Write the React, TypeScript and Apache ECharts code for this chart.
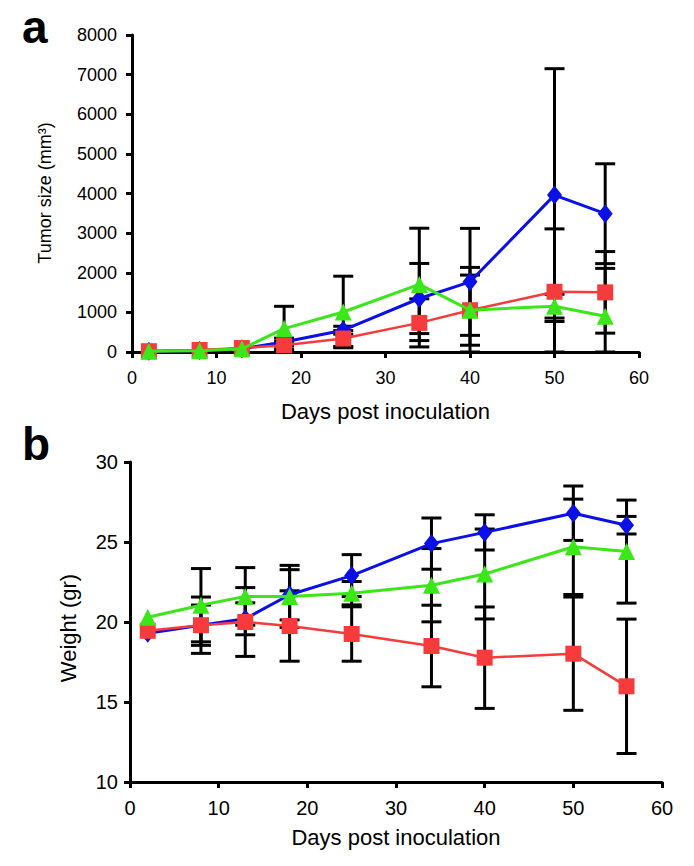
import React, { useEffect, useRef } from "react";
import * as echarts from "echarts";

const days = [2, 8, 13, 18, 25, 34, 40, 50, 56];

// Panel a: tumor size (mm3)
const tumorBlue = [20, 40, 80, 250, 550, 1350, 1770, 3960, 3490];
const tumorBlueErr = [0, 0, 0, 100, 100, 885, 1350, 3190, 1260];
const tumorRed = [20, 50, 100, 170, 340, 735, 1055, 1520, 1505];
const tumorRedErr = [0, 0, 0, 100, 200, 607, 1080, 1587, 1029];
const tumorGreen = [20, 30, 80, 590, 1010, 1706, 1056, 1157, 904];
const tumorGreenErr = [0, 0, 0, 563, 903, 1418, 885, 300, 1206];

// Panel b: weight (gr)
const weightBlue = [19.3, 19.8, 20.2, 21.7, 22.9, 24.9, 25.6, 26.8, 26.05];
const weightBlueErr = [0, 1.76, 1.0, 1.57, 1.31, 1.6, 1.1, 1.7, 0.55];
const weightRed = [19.45, 19.8, 20.0, 19.75, 19.25, 18.5, 17.77, 18.02, 15.98];
const weightRedErr = [0, 1.26, 2.15, 2.2, 1.7, 2.55, 3.17, 3.54, 4.2];
const weightGreen = [20.3, 21.05, 21.6, 21.6, 21.8, 22.3, 23.0, 24.7, 24.4];
const weightGreenErr = [0, 2.29, 1.8, 1.94, 0.73, 2.29, 2.81, 2.98, 3.22];

const FONT = '"Liberation Sans", Arial, sans-serif';
const BLUE = "#0a10e6";
const RED = "#f53b3b";
const GREEN = "#3be619";

function errSeries(vals: number[], errs: number[], axis: number, yMin: number, yMax: number) {
  return {
    type: "custom",
    xAxisIndex: axis,
    yAxisIndex: axis,
    z: 1,
    silent: true,
    encode: { x: 0, y: 1 },
    data: days.map((d, i) => [d, vals[i], errs[i]]),
    renderItem: (params: any, api: any) => {
      const x = api.value(0);
      const m = api.value(1);
      const e = api.value(2);
      if (!e) return { type: "group", children: [] };
      const lo = Math.max(m - e, yMin);
      const hi = Math.min(m + e, yMax);
      const pLo = api.coord([x, lo]);
      const pHi = api.coord([x, hi]);
      const w = 10;
      const st = { stroke: "#000", lineWidth: 3 };
      return {
        type: "group",
        children: [
          { type: "line", shape: { x1: pLo[0], y1: pLo[1], x2: pHi[0], y2: pHi[1] }, style: st },
          { type: "line", shape: { x1: pHi[0] - w, y1: pHi[1], x2: pHi[0] + w, y2: pHi[1] }, style: st },
          { type: "line", shape: { x1: pLo[0] - w, y1: pLo[1], x2: pLo[0] + w, y2: pLo[1] }, style: st },
        ],
      };
    },
  };
}

function lineSeries(vals: number[], axis: number, color: string, symbol: string, size: any, width: number, z: number) {
  return {
    type: "line",
    xAxisIndex: axis,
    yAxisIndex: axis,
    z,
    data: days.map((d, i) => [d, vals[i]]),
    symbol,
    symbolSize: size,
    showSymbol: true,
    lineStyle: { color, width },
    itemStyle: { color },
  };
}

const axisLine = { show: true, lineStyle: { color: "#000", width: 3 } };
const axisTick = { show: true, length: 6, lineStyle: { color: "#000", width: 3 } };
const plain = (v: number) => String(v);

export default function App() {
  const ref = useRef<HTMLDivElement>(null);
  useEffect(() => {
    if (!ref.current) return;
    const chart = echarts.init(ref.current, null, { renderer: "svg" });
    chart.setOption({
      animation: false,
      backgroundColor: "#fff",
      grid: [
        { left: 132, top: 35, width: 507, height: 317 },
        { left: 130, top: 462, width: 532, height: 320 },
      ],
      xAxis: [
        {
          gridIndex: 0,
          type: "value",
          min: 0,
          max: 60,
          interval: 10,
          axisLine,
          axisTick,
          splitLine: { show: false },
          axisLabel: { color: "#000", fontFamily: FONT, fontSize: 18, margin: 17, formatter: plain },
          name: "Days post inoculation",
          nameLocation: "middle",
          nameGap: 48,
          nameTextStyle: { color: "#000", fontFamily: FONT, fontSize: 22 },
        },
        {
          gridIndex: 1,
          type: "value",
          min: 0,
          max: 60,
          interval: 10,
          axisLine,
          axisTick,
          splitLine: { show: false },
          axisLabel: { color: "#000", fontFamily: FONT, fontSize: 20, margin: 16, formatter: plain },
          name: "Days post inoculation",
          nameLocation: "middle",
          nameGap: 44,
          nameTextStyle: { color: "#000", fontFamily: FONT, fontSize: 22 },
        },
      ],
      yAxis: [
        {
          gridIndex: 0,
          type: "value",
          min: 0,
          max: 8000,
          interval: 1000,
          axisLine,
          axisTick,
          splitLine: { show: false },
          axisLabel: { color: "#000", fontFamily: FONT, fontSize: 18, margin: 15, formatter: plain },
        },
        {
          gridIndex: 1,
          type: "value",
          min: 10,
          max: 30,
          interval: 5,
          axisLine,
          axisTick,
          splitLine: { show: false },
          axisLabel: { color: "#000", fontFamily: FONT, fontSize: 20, margin: 12, formatter: plain },
        },
      ],
      graphic: [
        {
          type: "text",
          x: 22,
          y: 50,
          style: { text: "a", font: `bold 46px ${FONT}`, fill: "#000", verticalAlign: "bottom" },
        },
        {
          type: "text",
          x: 22,
          y: 467,
          style: { text: "b", font: `bold 46px ${FONT}`, fill: "#000", verticalAlign: "bottom" },
        },
        {
          type: "text",
          x: 45,
          y: 193,
          rotation: Math.PI / 2,
          style: { text: "Tumor size (mm³)", font: `18px ${FONT}`, fill: "#000", align: "center", verticalAlign: "middle" },
        },
        {
          type: "text",
          x: 68,
          y: 628,
          rotation: Math.PI / 2,
          style: { text: "Weight (gr)", font: `22px ${FONT}`, fill: "#000", align: "center", verticalAlign: "middle" },
        },
      ],
      series: [
        errSeries(tumorBlue, tumorBlueErr, 0, 0, 8000),
        errSeries(tumorRed, tumorRedErr, 0, 0, 8000),
        errSeries(tumorGreen, tumorGreenErr, 0, 0, 8000),
        errSeries(weightBlue, weightBlueErr, 1, 10, 30),
        errSeries(weightRed, weightRedErr, 1, 10, 30),
        errSeries(weightGreen, weightGreenErr, 1, 10, 30),
        lineSeries(tumorBlue, 0, BLUE, "diamond", [15, 19], 3, 2),
        lineSeries(tumorRed, 0, RED, "rect", 16, 2.5, 3),
        lineSeries(tumorGreen, 0, GREEN, "triangle", 17, 3, 4),
        lineSeries(weightBlue, 1, BLUE, "diamond", [15, 19], 3, 2),
        lineSeries(weightRed, 1, RED, "rect", 16, 2.5, 3),
        lineSeries(weightGreen, 1, GREEN, "triangle", 17, 3, 4),
      ],
    });
    return () => chart.dispose();
  }, []);
  return (
    <div
      ref={ref}
      style={{ position: "fixed", left: 0, top: 0, width: 694, height: 866, background: "#fff" }}
    />
  );
}
